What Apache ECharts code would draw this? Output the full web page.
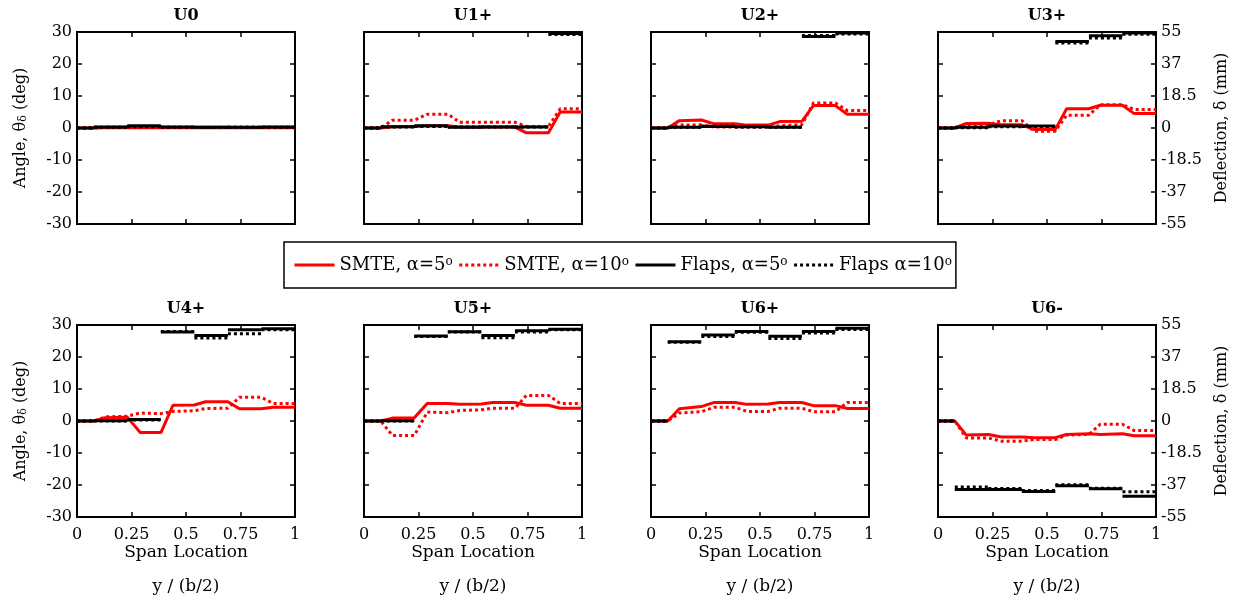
<!DOCTYPE html>
<html>
<head>
<meta charset="utf-8">
<script src="https://cdn.jsdelivr.net/npm/echarts@6/dist/echarts.min.js"></script>
<style>
  html, body { margin: 0; padding: 0; background: #fff; }
  #chart { width: 1241px; height: 603px; }
</style>
</head>
<body>
<div id="chart"></div>
<script>
// panels, left to right, top row then bottom row
const panels = ['U0', 'U1+', 'U2+', 'U3+', 'U4+', 'U5+', 'U6+', 'U6-'];
const seriesNames = ['SMTE, α=5°', 'SMTE, α=10°', 'Flaps, α=5°', 'Flaps α=10°'];

// span stations for the SMTE curves
const spanX = [0, 0.077, 0.13, 0.231, 0.29, 0.385, 0.44, 0.538, 0.59, 0.692, 0.745, 0.846, 0.9, 1];
// SMTE angle (deg), one row per panel
const smte5 = [
  [0, 0, 0.1, 0.1, 0.1, 0.1, 0.1, 0.1, 0.1, 0.1, 0.1, 0.1, 0.1, 0.1],
  [0, 0, 0.4, 0.5, 0.7, 0.7, 0.3, 0.3, 0.3, 0.3, -1.5, -1.5, 5, 5],
  [0, 0, 2.3, 2.5, 1.3, 1.3, 0.9, 0.9, 2.0, 2.1, 7, 7, 4.3, 4.3],
  [0, 0, 1.4, 1.5, 1.0, 1.0, -0.5, -0.5, 6, 6, 7.1, 7.1, 4.5, 4.5],
  [0, 0, 1.0, 1.2, -3.6, -3.6, 4.9, 5.0, 6.0, 6.0, 3.8, 3.8, 4.3, 4.3],
  [0, 0, 0.9, 1.0, 5.5, 5.5, 5.2, 5.3, 5.8, 5.8, 4.9, 4.9, 4.0, 4.0],
  [0, 0, 3.8, 4.5, 5.8, 5.8, 5.2, 5.3, 5.8, 5.8, 4.8, 4.8, 3.9, 3.9],
  [0, 0, -4.4, -4.2, -5.0, -5.0, -5.2, -5.2, -4.2, -4.0, -4.2, -4.0, -4.6, -4.6]
];
const smte10 = [
  [0, 0, 0.2, 0.2, 0.2, 0.2, 0.2, 0.2, 0.2, 0.2, 0.2, 0.2, 0.2, 0.2],
  [0, 0, 2.4, 2.4, 4.3, 4.3, 1.8, 1.8, 1.8, 1.8, 0.5, 0.5, 6, 6],
  [0, 0, 0.9, 1.0, 0.3, 0.3, 0.3, 0.3, 0.7, 1.0, 7.8, 7.8, 5.5, 5.5],
  [0, 0, 0.8, 0.9, 2.3, 2.3, -1, -1, 4, 4, 7.3, 7.3, 5.8, 5.8],
  [0, 0, 1.3, 1.5, 2.5, 2.3, 3.0, 3.2, 3.9, 4.0, 7.4, 7.4, 5.5, 5.5],
  [0, 0, -4.5, -4.5, 2.8, 2.6, 3.3, 3.5, 4.0, 4.0, 8.0, 8.0, 5.5, 5.5],
  [0, 0, 2.5, 2.9, 4.3, 4.3, 3.0, 3.0, 4.0, 4.0, 2.9, 2.9, 5.8, 5.8],
  [0, 0, -5.3, -5.3, -6.3, -6.3, -5.8, -5.8, -4.4, -4.2, -1.0, -1.0, -3.0, -3.0]
];

// flap segment edges (root segment + 6 flaps) and their angles (deg)
const flapEdges = [0, 1 / 13, 3 / 13, 5 / 13, 7 / 13, 9 / 13, 11 / 13, 1];
const flaps5 = [
  [0, 0.3, 0.7, 0.3, 0.2, 0.2, 0.3],
  [0, 0.4, 0.7, 0.2, 0.3, 0.3, 29.5],
  [0, 0.2, 0.5, 0.4, 0.2, 28.6, 29.7],
  [0, 0.2, 0.6, 0.6, 27.0, 28.8, 29.7],
  [0, 0.1, 0.5, 27.8, 26.7, 28.5, 28.8],
  [0, 0.1, 26.6, 27.9, 26.7, 28.2, 28.7],
  [0, 24.8, 26.9, 28.0, 26.5, 28.0, 29.0],
  [0, -21.4, -21.4, -22.0, -20.2, -21.2, -23.5]
];
const flaps10 = [
  [0, 0.2, 0.4, 0.2, 0.2, 0.2, 0.2],
  [0, 0.3, 0.5, 0.3, 0.3, 0.3, 29.2],
  [0, 0.2, 0.6, 0.3, 0.2, 28.9, 29.4],
  [0, 0.1, 0.4, 0.5, 26.6, 28.1, 29.3],
  [0, 0.0, 0.3, 28.0, 25.9, 27.3, 28.5],
  [0, 0, 26.4, 27.8, 26.0, 27.8, 28.5],
  [0, 24.6, 26.4, 27.7, 25.8, 27.5, 28.6],
  [0, -20.6, -21.1, -21.7, -19.9, -21.0, -22.1]
];

const angleTicks = ['-30', '-20', '-10', '0', '10', '20', '30'];
const deflTicks = ['-55', '-37', '-18.5', '0', '18.5', '37', '55'];

const font = 'DejaVu Serif';
const colLeft = [77, 364, 651, 938];
const rowTop = [32, 325];
const gw = 218, gh = 192;

function flapData(vals) {
  const out = [];
  vals.forEach((v, i) => {
    out.push([flapEdges[i], v], [flapEdges[i + 1], v], [flapEdges[i + 1], null]);
  });
  return out;
}

function line(name, g, data, color, dotted) {
  return {
    name, type: 'line', xAxisIndex: 2 * g, yAxisIndex: 2 * g, data,
    symbol: 'none', connectNulls: false, clip: true, animation: false,
    itemStyle: { color },
    lineStyle: { color, width: 3, type: dotted ? [3, 3] : 'solid' }
  };
}

const grid = [], xAxis = [], yAxis = [], series = [], title = [];
const tick = () => ({ show: true, inside: true, length: 5, lineStyle: { color: '#000', width: 1.5 } });
const noLine = () => ({ show: false, onZero: false });
const txt = { color: '#000', fontFamily: font };

panels.forEach((p, g) => {
  const col = g % 4, row = Math.floor(g / 4);
  const left = colLeft[col], top = rowTop[row];
  grid.push({ left, top, width: gw, height: gh, show: true, borderColor: '#000', borderWidth: 2 });

  title.push({
    text: p, left: left + gw / 2, top: top - 24, textAlign: 'center', padding: 0,
    textStyle: { ...txt, fontSize: 16, fontWeight: 'bold' }
  });
  if (row === 1) {
    title.push({
      text: 'y / (b/2)', left: left + gw / 2, top: 578, textAlign: 'center', padding: 0,
      textStyle: { ...txt, fontSize: 17, fontWeight: 'normal' }
    });
  }

  xAxis.push({
    gridIndex: g, type: 'value', position: 'bottom', min: 0, max: 1, interval: 0.25,
    axisLine: noLine(), axisTick: tick(), splitLine: { show: false },
    axisLabel: { show: row === 1, margin: 10, ...txt, fontSize: 16 },
    name: row === 1 ? 'Span Location' : '', nameLocation: 'middle', nameGap: 27,
    nameTextStyle: { ...txt, fontSize: 17 }
  });
  xAxis.push({
    gridIndex: g, type: 'value', position: 'top', min: 0, max: 1, interval: 0.25,
    axisLine: noLine(), axisTick: tick(), splitLine: { show: false }, axisLabel: { show: false }
  });
  yAxis.push({
    gridIndex: g, type: 'value', position: 'left', min: -30, max: 30, interval: 10,
    axisLine: noLine(), axisTick: tick(), splitLine: { show: false },
    axisLabel: { show: col === 0, margin: 5, ...txt, fontSize: 16,
      formatter: v => angleTicks[Math.round((v + 30) / 10)] },
    name: col === 0 ? 'Angle, θ{sub|δ} (deg)' : '', nameLocation: 'middle', nameRotate: 90, nameGap: 48,
    nameTextStyle: { ...txt, fontSize: 16, rich: { sub: { ...txt, fontSize: 11, verticalAlign: 'bottom', padding: [6, 0, 0, 0] } } }
  });
  yAxis.push({
    gridIndex: g, type: 'value', position: 'right', min: -30, max: 30, interval: 10,
    axisLine: noLine(), axisTick: tick(), splitLine: { show: false },
    axisLabel: { show: col === 3, margin: 5, ...txt, fontSize: 16,
      formatter: v => deflTicks[Math.round((v + 30) / 10)] },
    name: col === 3 ? 'Deflection, δ (mm)' : '', nameLocation: 'middle', nameRotate: 90, nameGap: 58,
    nameTextStyle: { ...txt, fontSize: 16 }
  });

  series.push(line(seriesNames[0], g, spanX.map((x, i) => [x, smte5[g][i]]), '#ff0000', false));
  series.push(line(seriesNames[1], g, spanX.map((x, i) => [x, smte10[g][i]]), '#ff0000', true));
  series.push(line(seriesNames[2], g, flapData(flaps5[g]), '#000000', false));
  series.push(line(seriesNames[3], g, flapData(flaps10[g]), '#000000', true));
});

const chart = echarts.init(document.getElementById('chart'), null, { renderer: 'canvas' });
chart.setOption({
  backgroundColor: '#fff',
  animation: false,
  title, grid, xAxis, yAxis, series,
  legend: {
    data: seriesNames, left: 284, top: 242, padding: [14, 4, 14, 9],
    itemGap: 5, itemWidth: 40, itemHeight: 14,
    borderColor: '#000', borderWidth: 1.5,
    itemStyle: { opacity: 0 },
    lineStyle: { width: 3 },
    formatter: n => n.replace('°', '{sup|o}'),
    textStyle: { ...txt, fontSize: 18, rich: { sup: { ...txt, fontSize: 12, verticalAlign: 'top' } } }
  }
});
</script>
</body>
</html>
